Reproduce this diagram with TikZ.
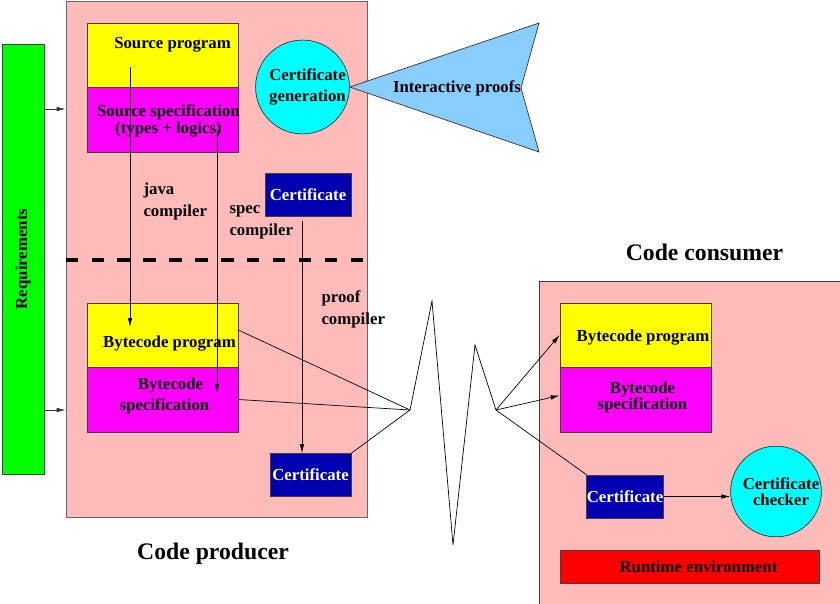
\documentclass[tikz,border=0pt]{standalone}
\usepackage{fontspec}
\setmainfont{Liberation Serif}
\usetikzlibrary{arrows.meta,calc}

\definecolor{pinkbg}{RGB}{255,186,186}
\definecolor{certblue}{RGB}{0,0,176}
\definecolor{skyblue}{RGB}{135,206,255}
\definecolor{specmag}{RGB}{255,0,255}
\definecolor{progyel}{RGB}{255,255,0}
\definecolor{roundcyan}{RGB}{0,255,255}
\definecolor{reqgreen}{RGB}{0,255,0}
\definecolor{rtered}{RGB}{255,0,0}

\begin{document}
\begin{tikzpicture}[
            x = 1pt, y = -1pt,
            every node/.style={font=\bfseries\fontsize{16.8}{19}\selectfont},
            box/.style={draw=black!75, line width=.7pt, inner sep=0pt, align=center},
            cert/.style={box, fill=certblue, text=white, minimum width=#1, minimum height=43pt},
            round/.style={circle, draw=black!80, fill=roundcyan, line width=.7pt, inner sep=0pt,
                          minimum size=87pt, align=center},
            note/.style={anchor=west, align=left, font=\bfseries\fontsize{16.8}{22}\selectfont},
            title/.style={font=\bfseries\fontsize{23.7}{28}\selectfont},
            line/.style={line width=.7pt},
            arr/.style={line, -{Latex[length=9pt,width=4.5pt]}},
            ]
        \useasboundingbox (0,0) rectangle (840,603);

        % outer regions
        \node[box, fill=reqgreen, minimum width=42pt, minimum height=430pt] (req) at (23,259) {};
        \node[rotate=90] at (req) {Requirements};
        \node[box, draw=black!60, fill=pinkbg, minimum width=301pt, minimum height=516pt] (prod) at (216.5,259) {};
        \node[box, fill=pinkbg, minimum width=311pt, minimum height=332pt] (cons) at (694.5,447) {};

        \node[title] (ptitle) at (213,554) {Code producer};
        \node[title] (ctitle) at (704.5,252) {Code consumer};

        \draw[line width=4pt, dash pattern=on 12.5pt off 13.4pt]
            ([yshift=-1pt]prod.west) -- ([xshift=-4pt,yshift=-1pt]prod.east);

        % producer side
        \node[box, fill=progyel, minimum width=151pt, minimum height=64pt,
              label={[xshift=10pt,yshift=10pt]center:Source program}] (srcprog) at (162.5,55) {};
        \node[box, fill=specmag, minimum width=151pt, minimum height=65pt,
              label={[xshift=6pt,yshift=-1pt,align=center,font=\bfseries\fontsize{16.8}{17}\selectfont]center:Source specification\\(types + logics)}]
              (srcspec) at (162.5,119.5) {};
        \node[round, font=\bfseries\fontsize{16.8}{21}\selectfont] (gen) at (302.5,87) {\hspace*{10pt}Certificate\\\hspace*{10pt}generation};
        \node[cert=86pt] (cert1) at (308,194.5) {Certificate};

        \node[box, fill=progyel, minimum width=151pt, minimum height=64pt,
              label={[xshift=7pt,yshift=-9pt]center:Bytecode program}] (bprog) at (162.5,335) {};
        \node[box, fill=specmag, minimum width=151pt, minimum height=65pt,
              label={[xshift=2pt,yshift=4pt,align=center,font=\bfseries\fontsize{16.8}{21}\selectfont]center:\hspace*{12pt}Bytecode\\specification}]
              (bspec) at (162.5,399.5) {};
        \node[cert=81pt] (cert2) at (310.5,475) {Certificate};

        \node[note] (javac) at (140,201) {java\\compiler};
        \node[note] (specc) at (226,222.5) {spec\\compiler};
        \node[note] (proofc) at (318,309) {proof\\compiler};

        % interactive proofs
        \draw[line, draw=black!80, fill=skyblue] (gen.east) -- (539,23) -- (521,88) -- (539,152) -- cycle;
        \node (ip) at (457,88) {Interactive proofs};

        % compilation
        \draw[arr] ($(srcprog.center)+(-32.5,12)$) -- ($(bprog.center)+(-32.5,-8)$);
        \draw[arr] ($(srcspec.center)+(54.5,10.5)$) -- ($(bspec.center)+(54.5,-6.5)$);
        \draw[arr] ($(cert1.south)+(-6,5)$) -- ($(cert2.north)+(-8.5,0)$);

        \draw[arr, draw=black!80] ([yshift=150pt]req.east) -- ([yshift=150pt]req.east -| prod.west);
        \draw[arr, draw=black!80] ([yshift=-151pt]req.east) -- ([yshift=-151pt]req.east -| prod.west);

        % network
        \coordinate (z0) at (410,410);
        \coordinate (z1) at (432,301);
        \coordinate (z2) at (453,545);
        \coordinate (z3) at (475,345);
        \coordinate (z4) at (496,410);

        \draw[line] ([yshift=5pt]bprog.east) -- (z0);
        \draw[line] (bspec.east) -- (z0);
        \draw[line] (cert2.north east) -- (z0);
        \draw[line] (z0) -- (z1) -- (z2) -- (z3) -- (z4);

        % consumer side
        \node[box, fill=progyel, minimum width=151pt, minimum height=64pt,
              label={[xshift=7.5pt,yshift=-3pt]center:Bytecode program}] (cbprog) at (635.5,335) {};
        \node[box, fill=specmag, minimum width=151pt, minimum height=65pt,
              label={[xshift=7pt,yshift=2pt,align=center,font=\bfseries\fontsize{16.8}{16}\selectfont]center:Bytecode\\specification}]
              (cbspec) at (635.5,399.5) {};
        \node[cert=76pt] (ccert) at (625,496.5) {Certificate};
        \node[round, font=\bfseries\fontsize{16.8}{16}\selectfont] (chk) at (776,491.5) {\hspace*{10pt}Certificate\\\hspace*{10pt}checker};
        \node[box, fill=rtered, minimum width=259pt, minimum height=33pt,
              label={[xshift=9pt]center:Runtime environment}] (rte) at (689.5,566.5) {};

        \draw[arr] (z4) -- (cbprog.west);
        \draw[arr] (z4) -- ([yshift=4pt]cbspec.west);
        \draw[line] (z4) -- (ccert.north west);
        \draw[arr] (ccert.east) -- (ccert.east -| chk.west);
    \end{tikzpicture}
\end{document}
